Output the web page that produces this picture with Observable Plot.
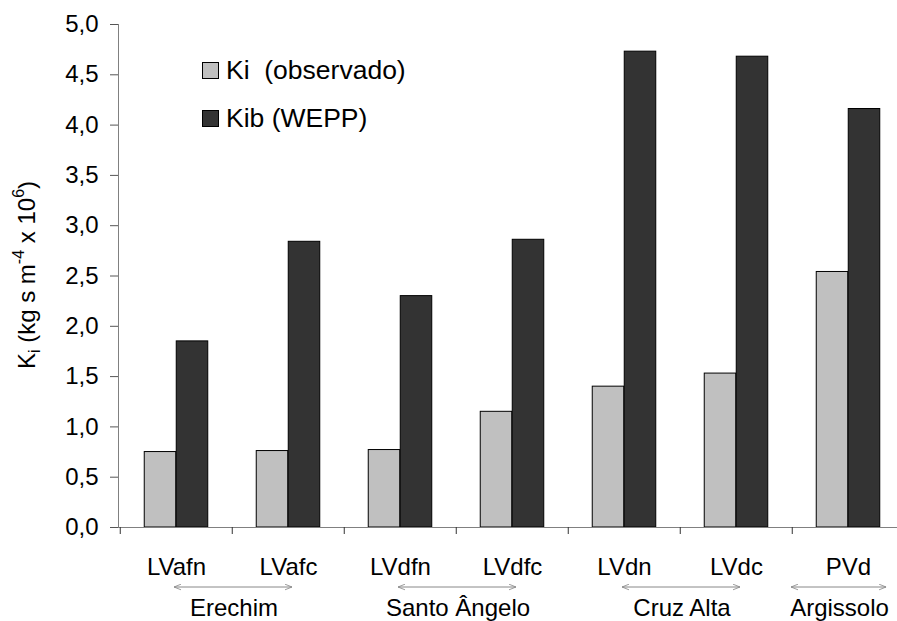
<!DOCTYPE html>
<html>
<head>
<meta charset="utf-8">
<script src="https://cdn.jsdelivr.net/npm/d3@7"></script>
<script src="https://cdn.jsdelivr.net/npm/@observablehq/plot@0.6"></script>
<style>
  html, body { margin: 0; padding: 0; background: white; overflow: hidden; }
  #chart { width: 897px; height: 621px; position: relative; }
  svg { font-family: "Liberation Sans", Arial, sans-serif; }
</style>
</head>
<body>
<div id="chart"></div>
<script>
// ---- data ----
const categories = ["LVafn", "LVafc", "LVdfn", "LVdfc", "LVdn", "LVdc", "PVd"];
const kiObservado = [0.75, 0.76, 0.77, 1.15, 1.40, 1.53, 2.54];
const kibWepp = [1.85, 2.84, 2.30, 2.86, 4.73, 4.68, 4.16];
const yTicks = [0, 0.5, 1, 1.5, 2, 2.5, 3, 3.5, 4, 4.5, 5];
const seriesNames = ["Ki  (observado)", "Kib (WEPP)"];
const groupNames = ["Erechim", "Santo Ângelo", "Cruz Alta", "Argissolo"];
const groupFrom = ["LVafn", "LVdfn", "LVdn", "PVd"];
const groupTo = ["LVafc", "LVdfc", "LVdc", "PVd"];

const rowsKi = categories.map((c, i) => ({cat: c, value: kiObservado[i]}));
const rowsKib = categories.map((c, i) => ({cat: c, value: kibWepp[i]}));

const W = 897, H = 621;
const mL = 118, mT = 24, mB = 94;
const xRange = [118, 905.4];
const step = (xRange[1] - xRange[0]) / categories.length;
const barW = 32;
const outer = (step - 2 * barW) / 2;

const plot = Plot.plot({
  width: W,
  height: H,
  marginLeft: mL,
  marginRight: 0,
  marginTop: mT,
  marginBottom: mB,
  style: {fontFamily: '"Liberation Sans", Arial, sans-serif', fontSize: "24px", background: "white", color: "black"},
  x: {domain: categories, range: xRange, paddingInner: 0, paddingOuter: 0, axis: null},
  y: {domain: [0, 5], axis: null},
  marks: [
    Plot.barY(rowsKi, {x: "cat", y: "value", fill: "#c0c0c0", stroke: "#000", strokeWidth: 1,
      insetLeft: outer, insetRight: outer + barW}),
    Plot.barY(rowsKib, {x: "cat", y: "value", fill: "#333333", stroke: "#000", strokeWidth: 1,
      insetLeft: outer + barW, insetRight: outer}),
    Plot.ruleY([0], {stroke: "#808080", strokeWidth: 1}),
    Plot.frame({anchor: "left", stroke: "#808080", strokeWidth: 1}),
    Plot.axisY({ticks: yTicks, tickFormat: d => d.toFixed(1).replace(".", ","), tickSize: 8, tickPadding: 12,
      fontSize: 24, label: null, stroke: "#555"}),
    Plot.axisX({ticks: categories, tickFormat: () => "", tickSize: 7, dx: -step / 2, label: null, stroke: "#333"}),
    Plot.axisX({ticks: categories, tickSize: 0, tickPadding: 30, fontSize: 24, label: null})
  ]
});

document.getElementById("chart").appendChild(plot);

// ---- annotations drawn with the plot's own x scale ----
const svg = d3.select(plot.tagName.toLowerCase() === "svg" ? plot : plot.querySelector("svg"));
const xs = plot.scale("x");
const bw = xs.bandwidth;
const center = c => xs.apply(c) + bw / 2;

const defs = svg.append("defs");
defs.append("marker")
  .attr("id", "openArrow")
  .attr("viewBox", "0 0 10 10")
  .attr("refX", 10).attr("refY", 5)
  .attr("markerWidth", 7).attr("markerHeight", 7)
  .attr("markerUnits", "userSpaceOnUse")
  .attr("orient", "auto-start-reverse")
  .append("path")
  .attr("d", "M0,1 L10,5 L0,9")
  .attr("fill", "none")
  .attr("stroke", "#888")
  .attr("stroke-width", 1.2);

const arrowY = 587;
groupNames.forEach((g, i) => {
  let x1, x2;
  if (groupFrom[i] === groupTo[i]) {
    x1 = xs.apply(groupFrom[i]) - 1;
    x2 = xs.apply(groupTo[i]) + bw * 0.84;
  } else {
    x1 = center(groupFrom[i]) - 2;
    x2 = center(groupTo[i]) + 4;
  }
  svg.append("line")
    .attr("x1", x1).attr("x2", x2)
    .attr("y1", arrowY).attr("y2", arrowY)
    .attr("stroke", "#888").attr("stroke-width", 1)
    .attr("marker-start", "url(#openArrow)")
    .attr("marker-end", "url(#openArrow)");
  svg.append("text")
    .attr("x", (x1 + x2) / 2 + 1)
    .attr("y", 616)
    .attr("text-anchor", "middle")
    .attr("font-size", 24)
    .attr("fill", "black")
    .text(g);
});

// y axis label with sub/superscripts
const yl = svg.append("text")
  .attr("transform", "translate(35,275) rotate(-90)")
  .attr("text-anchor", "middle")
  .attr("font-size", 24)
  .attr("fill", "black");
yl.append("tspan").text("K");
yl.append("tspan").attr("font-size", 16).attr("dy", 5).text("i");
yl.append("tspan").attr("dy", -5).text(" (kg s m");
yl.append("tspan").attr("font-size", 16).attr("dy", -11).text("-4");
yl.append("tspan").attr("dy", 11).text(" x 10");
yl.append("tspan").attr("font-size", 16).attr("dy", -11).text("6");
yl.append("tspan").attr("dy", 11).text(")");

// legend
const legendFill = ["#c0c0c0", "#333333"];
const legendY = [62, 110];
seriesNames.forEach((s, i) => {
  svg.append("rect")
    .attr("x", 202.5).attr("y", legendY[i] + 0.5)
    .attr("width", 16).attr("height", 16)
    .attr("fill", legendFill[i]).attr("stroke", "#000").attr("stroke-width", 1);
  svg.append("text")
    .attr("x", 226).attr("y", legendY[i] + 17)
    .attr("text-anchor", "start")
    .attr("font-size", 26.5)
    .attr("fill", "black")
    .style("white-space", "pre")
    .attr("xml:space", "preserve")
    .text(s);
});
</script>
</body>
</html>
